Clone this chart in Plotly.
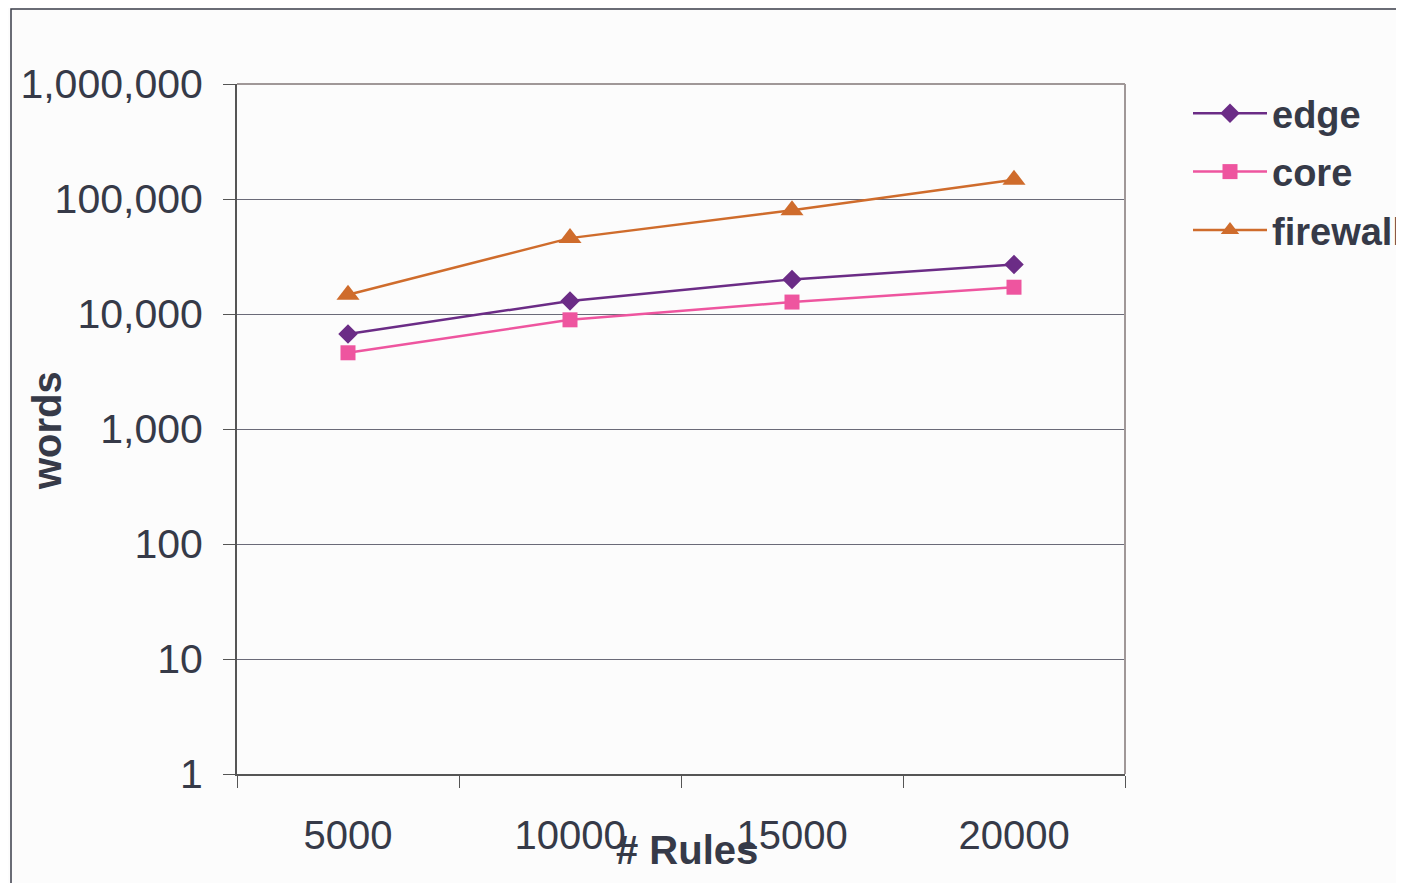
import plotly.graph_objects as go

rules = ["5000", "10000", "15000", "20000"]
edge = [6700, 13000, 20000, 27000]
core = [4600, 8900, 12700, 17100]
firewall = [14700, 45700, 80000, 147000]

series = [
    ("edge", edge, "#6B2C86", "diamond", 15),
    ("core", core, "#EE559F", "square", 15),
    ("firewall", firewall, "#CF6C2C", "triangle-up", 20),
]

fig = go.Figure()
for name, vals, color, sym, size in series:
    fig.add_trace(go.Scatter(
        x=rules, y=vals, name=name, mode="lines+markers", legendgroup=name,
        line=dict(color=color, width=2.5),
        marker=dict(symbol=sym, size=size, color=color),
    ))

TXT = "#363a48"
OFF = 8  # page body margin
W, H = 1404 - OFF, 883 - OFF
L, R, T, B = 237 - OFF, 1125 - OFF, 84 - OFF, 774 - OFF
pw, ph = R - L, B - T

def px(x):
    return (x - OFF - L) / pw

def py(y):
    return (B - (y - OFF)) / ph

fig.update_layout(
    width=W, height=H,
    margin=dict(l=L, r=W - R, t=T, b=H - B, autoexpand=False),
    paper_bgcolor="#fcfcfc", plot_bgcolor="#fcfcfc",
    font=dict(family="Liberation Sans, Arial, sans-serif", color=TXT, size=40),
    showlegend=True,
    legend=dict(
        x=px(1188), y=py(82), xanchor="left", yanchor="top",
        font=dict(size=38, color=TXT, family="Liberation Sans, Arial, sans-serif", weight="bold"),
        bgcolor="rgba(0,0,0,0)", itemwidth=74, tracegroupgap=6,
    ),
    xaxis=dict(
        type="category", range=[-0.5, 3.5], tickson="boundaries",
        ticks="outside", ticklen=12, tickcolor="#555",
        showline=True, linecolor="#555", linewidth=2,
        showgrid=False, zeroline=False,
        tickfont=dict(size=40, color=TXT), ticklabelstandoff=25,
    ),
    yaxis=dict(
        type="log", range=[0, 6], dtick=1, tickformat=",",
        ticks="outside", ticklen=12, tickcolor="#555",
        showline=True, linecolor="#555", linewidth=2,
        showgrid=True, gridcolor="#6a6a78", gridwidth=1,
        zeroline=False,
        tickfont=dict(size=41, color=TXT), ticklabelstandoff=12,
    ),
    shapes=[
        dict(type="line", xref="paper", yref="paper", x0=0, x1=1, y0=1, y1=1,
             line=dict(color="#a09898", width=2)),
        dict(type="line", xref="paper", yref="paper", x0=1, x1=1, y0=0, y1=1,
             line=dict(color="#a09898", width=2)),
        dict(type="rect", xref="paper", yref="paper", x0=px(11), x1=px(1420),
             y0=py(900), y1=py(9), line=dict(color="#3a3d48", width=1.5),
             fillcolor="rgba(0,0,0,0)", layer="below"),
    ],
    annotations=[
        dict(text="<b># Rules</b>", xref="paper", yref="paper", x=px(687), y=py(850),
             showarrow=False, font=dict(size=40, color=TXT), xanchor="center", yanchor="middle"),
        dict(text="<b>words</b>", xref="paper", yref="paper", x=px(47), y=py(431),
             showarrow=False, textangle=-90, font=dict(size=40, color=TXT),
             xanchor="center", yanchor="middle"),
    ],
)

fig.write_html("out.html")
